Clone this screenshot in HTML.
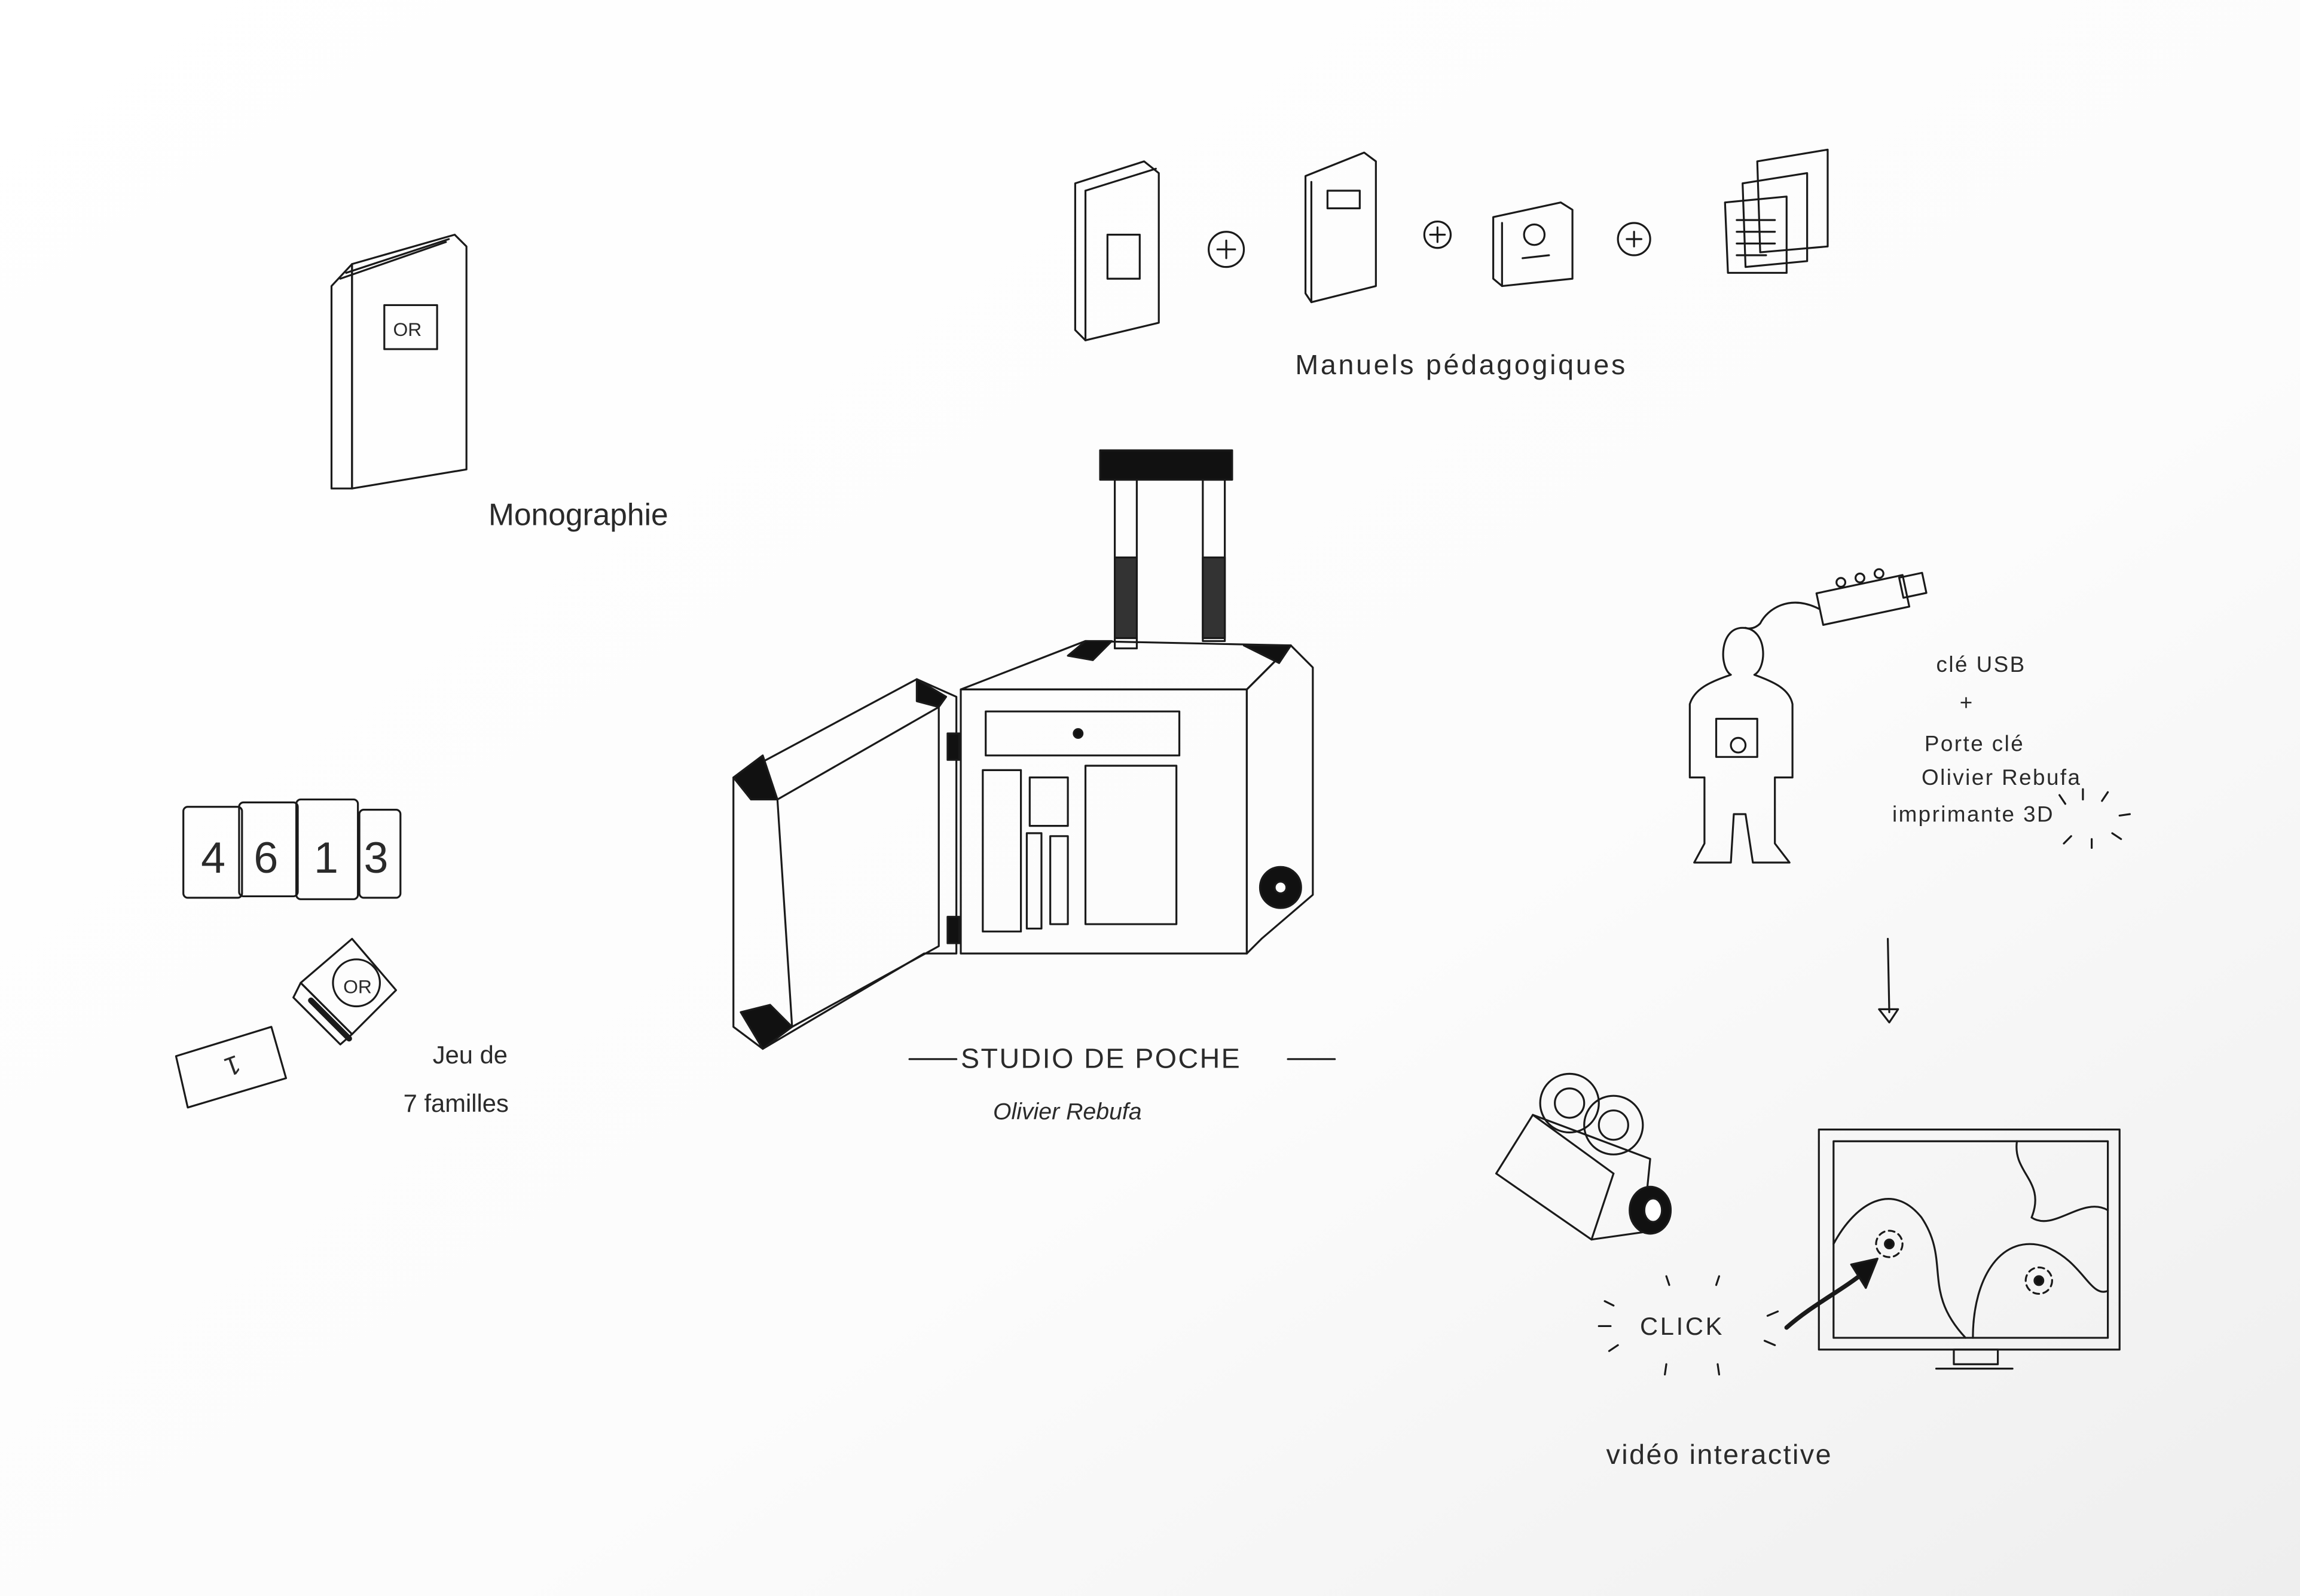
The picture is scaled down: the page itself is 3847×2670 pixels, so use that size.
<!DOCTYPE html>
<html><head><meta charset="utf-8">
<style>
html,body{margin:0;padding:0;background:#fff;}
svg{display:block;}
text{font-family:"Liberation Sans",sans-serif;fill:#2a2a2a;}
</style></head>
<body>
<svg width="3847" height="2670" viewBox="0 0 1568 1088" preserveAspectRatio="none" xmlns="http://www.w3.org/2000/svg">
<defs>
<linearGradient id="bg" x1="0" y1="0" x2="1" y2="1">
<stop offset="0" stop-color="#ffffff"/><stop offset="0.6" stop-color="#fcfcfc"/><stop offset="1" stop-color="#eeeeee"/>
</linearGradient>
</defs>
<rect width="1568" height="1088" fill="url(#bg)"/>
<g fill="none" stroke="#1a1a1a" stroke-width="1.3" stroke-linejoin="round" stroke-linecap="round">
<!-- Monographie book -->
<polygon points="226,195 240,180 240,333 226,333"/>
<polygon points="240,180 310,160 318,168 318,320 240,333"/>
<line x1="232" y1="190" x2="304" y2="165"/><line x1="236" y1="186" x2="306" y2="163"/>
<rect x="262" y="208" width="36" height="30"/>
<!-- Manuels -->
<polygon points="733,125 780,110 790,118 790,220 740,232 733,225"/>
<line x1="740" y1="130" x2="740" y2="232"/><line x1="740" y1="130" x2="788" y2="115"/>
<rect x="755" y="160" width="22" height="30"/>
<circle cx="836" cy="170" r="12"/><path d="M830,170h12M836,164v12"/>
<polygon points="890,120 930,104 938,110 938,195 894,206 890,200"/>
<line x1="894" y1="124" x2="894" y2="206"/>
<rect x="905" y="130" width="22" height="12"/>
<circle cx="980" cy="160" r="9"/><path d="M975,160h10M980,155v10"/>
<polygon points="1018,148 1064,138 1072,143 1072,190 1024,195 1018,190"/>
<line x1="1024" y1="152" x2="1024" y2="195"/>
<circle cx="1046" cy="160" r="7"/><line x1="1038" y1="176" x2="1056" y2="174"/>
<circle cx="1114" cy="163" r="11"/><path d="M1109,163h10M1114,158v10"/>
<polygon points="1198,110 1246,102 1246,168 1200,172"/>
<polygon points="1188,125 1232,118 1232,178 1190,182"/>
<polygon points="1176,138 1218,134 1218,186 1178,186"/>
<path d="M1184,150h26M1184,158h26M1184,166h26M1184,174h20"/>
<!-- Suitcase handle -->
<rect x="750" y="307" width="90" height="20" fill="#111"/>
<rect x="760" y="327" width="15" height="115"/><rect x="820" y="327" width="15" height="110"/>
<rect x="760" y="380" width="15" height="55" fill="#333"/><rect x="820" y="380" width="15" height="55" fill="#333"/>
<!-- Suitcase body -->
<polygon points="655,470 740,437 880,440 850,470"/>
<polygon points="655,470 850,470 850,650 655,650"/>
<polygon points="850,470 880,440 895,455 895,610 860,640 850,650"/>
<rect x="672" y="485" width="132" height="30"/><circle cx="735" cy="500" r="3" fill="#111"/>
<rect x="670" y="525" width="26" height="110"/><rect x="702" y="530" width="26" height="33"/>
<rect x="700" y="568" width="10" height="65"/><rect x="716" y="570" width="12" height="60"/>
<rect x="740" y="522" width="62" height="108"/>
<circle cx="873" cy="605" r="14" fill="#111"/><circle cx="873" cy="605" r="4" fill="#fff"/>
<polygon points="740,437 758,437 745,450 728,447" fill="#111"/>
<polygon points="848,440 880,440 872,452" fill="#111"/>
<!-- door -->
<polygon points="500,530 625,463 652,475 652,650 630,650 520,715 500,700"/>
<polygon points="530,545 640,482 640,645 540,700"/>
<polygon points="500,530 520,515 530,545 512,545" fill="#111"/>
<polygon points="625,463 645,475 640,482 625,478" fill="#111"/>
<polygon points="505,690 525,685 540,700 520,715" fill="#111"/>
<rect x="646" y="500" width="8" height="18" fill="#111"/><rect x="646" y="625" width="8" height="18" fill="#111"/>
<!-- Cards -->
<rect x="125" y="550" width="40" height="62" rx="3"/>
<rect x="163" y="547" width="40" height="64" rx="3"/>
<rect x="202" y="545" width="42" height="68" rx="3"/>
<rect x="245" y="552" width="28" height="60" rx="3"/>
<!-- Box -->
<polygon points="205,670 240,640 270,675 240,705"/>
<polygon points="205,670 200,680 232,712 240,705" />
<circle cx="243" cy="670" r="16"/>
<line x1="212" y1="682" x2="238" y2="708" stroke-width="4"/>
<!-- single card -->
<polygon points="120,720 185,700 195,735 128,755"/>
<!-- USB person -->
<rect x="1240" y="398" width="60" height="22" transform="rotate(-12 1270 409)"/>
<rect x="1296" y="392" width="16" height="14" transform="rotate(-12 1304 399)"/>
<circle cx="1255" cy="397" r="3"/><circle cx="1268" cy="394" r="3"/><circle cx="1281" cy="391" r="3"/>
<path d="M1240,415 C1220,405 1205,415 1200,425 C1195,430 1190,428 1190,428"/>
<path d="M1188,428 C1172,428 1172,455 1180,460 C1165,465 1155,470 1152,480 L1152,530 L1162,530 L1162,575 L1155,588 L1180,588 L1182,555 L1190,555 L1195,588 L1220,588 L1210,575 L1210,530 L1222,530 L1222,480 C1220,470 1210,465 1196,460 C1205,455 1205,428 1188,428Z"/>
<rect x="1170" y="490" width="28" height="26"/><circle cx="1185" cy="508" r="5"/>
<path d="M1408,548l-4,-6M1420,545l0,-7M1433,546l4,-6M1445,556l7,-1M1440,568l6,4M1412,570l-5,5M1426,572l0,6"/>
<!-- arrow down -->
<path d="M1287,640 L1288,690"/><polygon points="1281,688 1294,688 1288,697"/>
<!-- Camera -->
<polygon points="1020,800 1045,760 1125,790 1120,840 1085,845"/>
<line x1="1045" y1="760" x2="1100" y2="800"/><line x1="1100" y1="800" x2="1085" y2="845"/>
<circle cx="1070" cy="752" r="20"/><circle cx="1070" cy="752" r="10"/>
<circle cx="1100" cy="767" r="20"/><circle cx="1100" cy="767" r="10"/>
<ellipse cx="1125" cy="825" rx="14" ry="16" fill="#111"/><ellipse cx="1127" cy="825" rx="6" ry="8" fill="#fff"/>
<!-- Monitor -->
<rect x="1240" y="770" width="205" height="150"/>
<rect x="1250" y="778" width="187" height="134"/>
<path d="M1250,848 C1265,820 1290,805 1310,830 C1330,860 1310,880 1340,912"/>
<path d="M1375,778 C1372,800 1395,805 1385,830 C1400,840 1420,815 1437,825"/>
<path d="M1345,912 C1345,870 1365,840 1395,850 C1420,860 1425,885 1437,880"/>
<circle cx="1288" cy="848" r="3" fill="#111"/><circle cx="1288" cy="848" r="9" stroke-dasharray="4 3"/>
<circle cx="1390" cy="873" r="3" fill="#111"/><circle cx="1390" cy="873" r="9" stroke-dasharray="4 3"/>
<rect x="1332" y="920" width="30" height="10"/><line x1="1320" y1="933" x2="1372" y2="933"/>
<path d="M1218,905 C1235,890 1255,880 1270,868" stroke-width="3"/>
<polygon points="1262,862 1280,858 1272,878" fill="#111"/>
<path d="M1100,890l-6,-3M1098,904l-8,0M1103,917l-6,4M1138,876l-2,-6M1170,876l2,-6M1205,897l7,-3M1203,914l7,3M1136,930l-1,7M1171,930l1,7"/>
<line x1="620" y1="722" x2="652" y2="722"/><line x1="878" y1="722" x2="910" y2="722"/>
</g>
<g font-size="18">
<text x="268" y="229" font-size="13">OR</text>
<text x="150" y="735" font-size="18" transform="rotate(160 157 728)">1</text>
<text x="333" y="358" font-size="21">Monographie</text>
<text x="883" y="255" font-size="19" letter-spacing="1.5">Manuels pédagogiques</text>
<text x="137" y="595" font-size="30">4</text>
<text x="173" y="595" font-size="30">6</text>
<text x="214" y="595" font-size="30">1</text>
<text x="248" y="595" font-size="30">3</text>
<text x="234" y="677" font-size="13">OR</text>
<text x="295" y="725" font-size="17">Jeu de</text>
<text x="275" y="758" font-size="17">7 familles</text>
<text x="655" y="728" font-size="19" letter-spacing="1">STUDIO DE POCHE</text>
<text x="677" y="763" font-size="16" font-style="italic">Olivier Rebufa</text>
<text x="1320" y="458" font-size="15" letter-spacing="1">clé USB</text>
<text x="1336" y="484" font-size="15">+</text>
<text x="1312" y="512" font-size="15" letter-spacing="1">Porte clé</text>
<text x="1310" y="535" font-size="15" letter-spacing="1">Olivier Rebufa</text>
<text x="1290" y="560" font-size="15" letter-spacing="1">imprimante 3D</text>
<text x="1118" y="910" font-size="17" letter-spacing="1.5">CLICK</text>
<text x="1095" y="998" font-size="19" letter-spacing="1">vidéo interactive</text>
</g>
</svg>
</body></html>
